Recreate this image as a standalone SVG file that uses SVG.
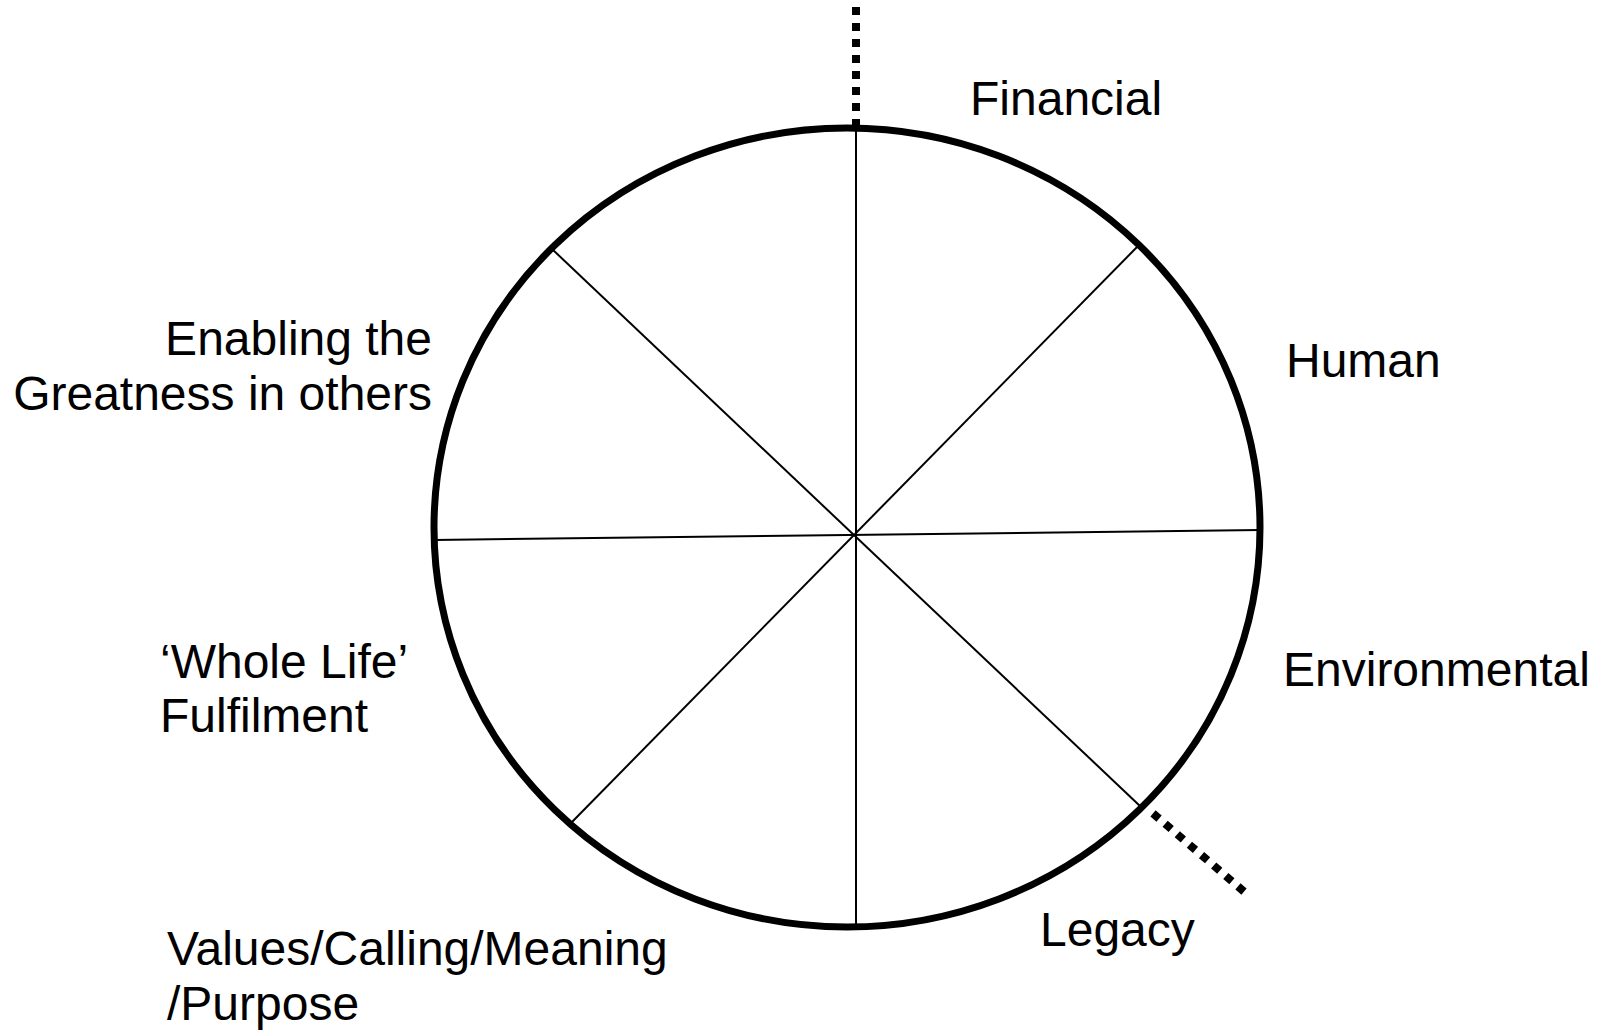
<svg xmlns="http://www.w3.org/2000/svg" width="1599" height="1032" viewBox="0 0 1599 1032">
<style>
.lbl{font-family:"Liberation Sans",Arial,sans-serif;font-size:48px;fill:#000}
.spoke{stroke:#000;stroke-width:2;fill:none}
.dot{stroke:#000;stroke-width:8;stroke-dasharray:8 8;fill:none}
</style>
<rect width="1599" height="1032" fill="#fff"/>
<g id="wheel">
<ellipse cx="847" cy="527.5" rx="413" ry="399.5" fill="none" stroke="#000" stroke-width="7"/>
</g>
<g id="connectors">
<line class="spoke" x1="856" y1="128" x2="856" y2="927"/>
<line class="spoke" x1="434" y1="540" x2="1260" y2="530"/>
<line class="spoke" x1="552" y1="249" x2="1140" y2="806"/>
<line class="spoke" x1="1138" y1="246" x2="572" y2="822"/>
<line class="dot" x1="856" y1="7" x2="856" y2="127"/>
<line class="dot" x1="1153" y1="813.4" x2="1244" y2="891.6"/>
</g>
<g id="financial"><text class="lbl" x="970" y="115">Financial</text></g>
<g id="human"><text class="lbl" x="1286" y="377">Human</text></g>
<g id="environmental"><text class="lbl" x="1283" y="686">Environmental</text></g>
<g id="legacy"><text class="lbl" x="1040" y="946">Legacy</text></g>
<g id="values"><text class="lbl" x="167" y="965">Values/Calling/Meaning</text><text class="lbl" x="167" y="1020">/Purpose</text></g>
<g id="wholelife"><text class="lbl" x="160" y="678">‘Whole Life’</text><text class="lbl" x="160" y="732">Fulfilment</text></g>
<g id="enabling"><text class="lbl" x="432" y="355" text-anchor="end">Enabling the</text><text class="lbl" x="432" y="410" text-anchor="end">Greatness in others</text></g>
</svg>
